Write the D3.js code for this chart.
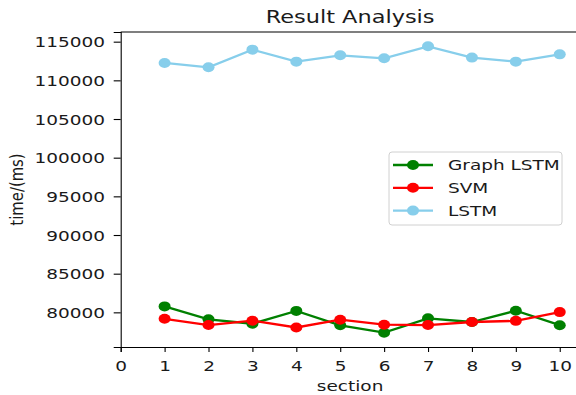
<!DOCTYPE html>
<html>
<head>
<meta charset="utf-8">
<script src="https://cdn.jsdelivr.net/npm/d3@7"></script>
<style>
  body { margin: 0; background: #fff; }
  text { font-family: "DejaVu Sans", sans-serif; fill: #1a1a1a; }
</style>
</head>
<body>
<div id="chart"></div>
<script>
// data
const sections = [1, 2, 3, 4, 5, 6, 7, 8, 9, 10];
const graphLstm = [80770, 79100, 78530, 80190, 78320, 77370, 79230, 78750, 80210, 78340];
const svm = [79170, 78360, 78920, 78040, 79050, 78400, 78360, 78750, 78900, 80030];
const lstm = [112250, 111690, 113970, 112420, 113240, 112850, 114400, 112940, 112420, 113360];
const xTicks = [0, 1, 2, 3, 4, 5, 6, 7, 8, 9, 10];
const yTicks = [80000, 85000, 90000, 95000, 100000, 105000, 110000, 115000];
const seriesNames = ["Graph LSTM", "SVM", "LSTM"];
const seriesColors = ["green", "red", "skyblue"];

// the picture is stretched sideways, so text and markers get the same stretch
const SX = 1.32, SY = 1.02;
const W = 576, H = 395;
const LEFT = 120.7, RIGHT = 579.5, TOP = 32, BOTTOM = 347;
const MRX = 6, MRY = 5;

const svg = d3.select("#chart").append("svg")
  .attr("width", W).attr("height", H);

const x = d3.scaleLinear().domain([0, 10.45]).range([LEFT, RIGHT]);
const y = d3.scaleLinear().domain([75519, 116251]).range([BOTTOM, TOP]);

// axes
const xAxis = svg.append("g")
  .attr("transform", "translate(0," + BOTTOM + ")")
  .call(d3.axisBottom(x).tickValues(xTicks).tickSizeOuter(0).tickSize(5).tickFormat(d3.format("d")));
xAxis.selectAll("text")
  .attr("y", 14).attr("dy", "0.71em")
  .style("font-size", "14px")
  .attr("transform", "scale(" + SX + "," + SY + ")");

const yAxis = svg.append("g")
  .attr("transform", "translate(" + LEFT + ",0)")
  .call(d3.axisLeft(y).tickValues(yTicks).tickSizeOuter(0).tickSize(7).tickFormat(d3.format("d")));
yAxis.selectAll("text")
  .attr("x", -15.7 / SX).attr("dy", "0.36em")
  .style("font-size", "14px")
  .attr("transform", "scale(" + SX + "," + SY + ")");

svg.selectAll(".domain, .tick line").attr("stroke", "#000").attr("stroke-width", 1.1);

// top spine (right one falls off the picture)
svg.append("line")
  .attr("x1", LEFT).attr("x2", RIGHT)
  .attr("y1", TOP).attr("y2", TOP)
  .attr("stroke", "#000").attr("stroke-width", 1.1);

// titles
svg.append("text")
  .attr("transform", "translate(" + (LEFT + RIGHT) / 2 + ",23) scale(1.32,1.05)")
  .attr("text-anchor", "middle")
  .style("font-size", "17px")
  .text("Result Analysis");

svg.append("text")
  .attr("transform", "translate(" + (LEFT + RIGHT) / 2 + ",391) scale(" + SX + "," + SY + ")")
  .attr("text-anchor", "middle")
  .style("font-size", "14px")
  .text("section");

svg.append("text")
  .attr("transform", "translate(23," + (TOP + BOTTOM) / 2 + ") scale(" + SX + ",1.06) rotate(-90)")
  .attr("text-anchor", "middle")
  .style("font-size", "14px")
  .text("time/(ms)");

// lines + markers
const allSeries = [graphLstm, svm, lstm];
const line = d3.line()
  .x((d, i) => x(sections[i]))
  .y(d => y(d));

allSeries.forEach((vals, k) => {
  const g = svg.append("g");
  g.append("path")
    .datum(vals)
    .attr("fill", "none")
    .attr("stroke", seriesColors[k])
    .attr("stroke-width", 2.3)
    .attr("d", line);
  g.selectAll("ellipse")
    .data(vals)
    .enter()
    .append("ellipse")
    .attr("cx", (d, i) => x(sections[i]))
    .attr("cy", d => y(d))
    .attr("rx", MRX)
    .attr("ry", MRY)
    .attr("fill", seriesColors[k]);
});

// legend
const legend = svg.append("g");
legend.append("rect")
  .attr("x", 389).attr("y", 152)
  .attr("width", 173).attr("height", 73)
  .attr("rx", 3)
  .attr("fill", "#fff").attr("fill-opacity", 0.8)
  .attr("stroke", "#d0d0d0");

const rows = legend.selectAll("g.item")
  .data(seriesNames)
  .enter()
  .append("g")
  .attr("class", "item")
  .attr("transform", (d, i) => "translate(0," + (165 + i * 22.8) + ")");

rows.append("line")
  .attr("x1", 393).attr("x2", 433)
  .attr("stroke", (d, i) => seriesColors[i])
  .attr("stroke-width", 2.3);
rows.append("ellipse")
  .attr("cx", 413).attr("rx", MRX).attr("ry", MRY)
  .attr("fill", (d, i) => seriesColors[i]);
rows.append("text")
  .attr("transform", "translate(448,0) scale(" + SX + "," + SY + ")")
  .attr("dy", "0.36em")
  .style("font-size", "14px")
  .text(d => d);
</script>
</body>
</html>
